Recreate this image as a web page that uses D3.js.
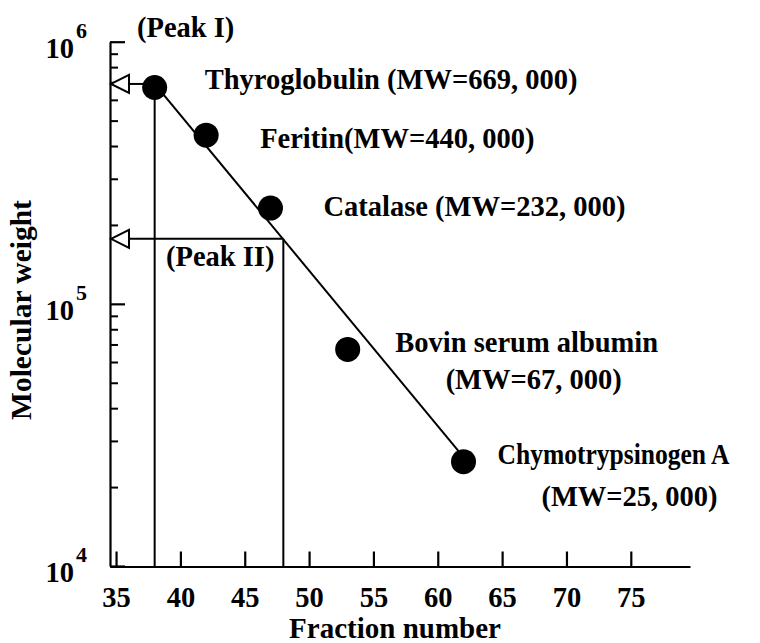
<!DOCTYPE html>
<html>
<head>
<meta charset="utf-8">
<script src="https://cdn.jsdelivr.net/npm/d3@7"></script>
<style>
  body { margin: 0; background: #fff; }
  text { font-family: "Liberation Serif", "Times New Roman", serif; font-weight: bold; fill: #000; }
</style>
</head>
<body>
<div id="chart"></div>
<script>

// standards (fraction number vs molecular weight)
var proteins = ["Thyroglobulin", "Feritin", "Catalase", "Bovin serum albumin", "Chymotrypsinogen A"];
var fractions = [38, 42, 47, 53, 62];
var weights = [669000, 440000, 232000, 67000, 25000];
var labelLines = [
    ["Thyroglobulin (MW=669, 000)"],
    ["Feritin(MW=440, 000)"],
    ["Catalase (MW=232, 000)"],
    ["Bovin serum albumin", "(MW=67, 000)"],
    ["Chymotrypsinogen A", "(MW=25, 000)"]
];

// calibration line end points
var fitFractions = [38, 62];
var fitWeights = [690000, 26000];

// peaks
var peakNames = ["(Peak I)", "(Peak II)"];
var peakFractions = [38, 48];
var peakWeights = [690000, 177000];

var xTicks = [35, 40, 45, 50, 55, 60, 65, 70, 75];
var yMajor = [1e4, 1e5, 1e6];
var yExponents = ["4", "5", "6"];

var width = 760, height = 643;

var svg = d3.select("#chart")
    .append("svg")
    .attr("width", width)
    .attr("height", height);

var x = d3.scaleLinear()
    .domain([34.53, 79.6])
    .range([110, 690]);

var y = d3.scaleLog()
    .domain([1e4, 1e6])
    .range([566, 41.7]);

var fs = 28.5;

// minor ticks 2..9 in each decade
var yMinor = [];
[1e4, 1e5].forEach(function(d) {
    for (var k = 2; k <= 9; k++) yMinor.push(d * k);
});

// y axis
var yAxis = svg.append("g")
    .attr("transform", "translate(" + x.range()[0] + ",0)")
    .call(d3.axisRight(y).tickValues(yMajor).tickSize(15).tickSizeOuter(0).tickFormat(""));
yAxis.select(".domain").attr("stroke-width", 2.2);
yAxis.selectAll(".tick line").attr("stroke-width", 2.2);

var yMinorAxis = svg.append("g")
    .attr("transform", "translate(" + x.range()[0] + ",0)")
    .call(d3.axisRight(y).tickValues(yMinor).tickSize(8).tickFormat(""));
yMinorAxis.select(".domain").remove();
yMinorAxis.selectAll(".tick line").attr("stroke-width", 2);

// x axis
var xAxis = svg.append("g")
    .attr("transform", "translate(0," + (y.range()[0] + 0.5) + ")")
    .call(d3.axisBottom(x).tickValues(xTicks).tickSize(-15).tickSizeOuter(0).tickPadding(0));
xAxis.attr("font-family", null).attr("font-size", null);
xAxis.select(".domain").attr("stroke-width", 2.2);
xAxis.selectAll(".tick line").attr("stroke-width", 2.2);
xAxis.selectAll(".tick text")
    .attr("dy", null)
    .attr("y", 40)
    .style("font-size", fs + "px");

// 10^n labels
svg.selectAll(".ylab")
    .data(yMajor)
    .enter()
    .append("text")
    .attr("class", "ylab")
    .attr("x", 74)
    .attr("y", function(d) { return y(d) + 16; })
    .attr("text-anchor", "end")
    .style("font-size", fs + "px")
    .text("10");
svg.selectAll(".yexp")
    .data(yMajor)
    .enter()
    .append("text")
    .attr("class", "yexp")
    .attr("x", 76)
    .attr("y", function(d) { return y(d) - 4; })
    .style("font-size", "22px")
    .text(function(d, i) { return yExponents[i]; });

// axis titles
svg.append("text")
    .attr("x", 395)
    .attr("y", 638)
    .attr("text-anchor", "middle")
    .style("font-size", "29px")
    .text("Fraction number");

svg.append("text")
    .attr("transform", "translate(31,310) rotate(-90)")
    .attr("text-anchor", "middle")
    .style("font-size", "29.5px")
    .text("Molecular weight");

// peak guide lines
var x0 = x.range()[0], yBase = y.range()[0];
peakFractions.forEach(function(f, i) {
    var px = x(f), py = y(peakWeights[i]);
    svg.append("line")
        .attr("x1", px).attr("x2", px)
        .attr("y1", yBase).attr("y2", py)
        .attr("stroke", "#000").attr("stroke-width", 2);
    svg.append("line")
        .attr("x1", px).attr("x2", x0 + 19)
        .attr("y1", py).attr("y2", py)
        .attr("stroke", "#000").attr("stroke-width", 2);
    svg.append("path")
        .attr("d", "M" + (x0 + 1) + "," + py + "L" + (x0 + 19) + "," + (py - 9) + "L" + (x0 + 19) + "," + (py + 9) + "Z")
        .attr("fill", "#fff")
        .attr("stroke", "#000")
        .attr("stroke-width", 2);
});

// peak labels
svg.append("text")
    .attr("x", 137)
    .attr("y", 37)
    .style("font-size", fs + "px")
    .text(peakNames[0]);
svg.append("text")
    .attr("x", 166)
    .attr("y", 266)
    .style("font-size", fs + "px")
    .text(peakNames[1]);

// calibration line
var line = d3.line()
    .x(function(d) { return x(d[0]); })
    .y(function(d) { return y(d[1]); });
svg.append("path")
    .datum(fitFractions.map(function(f, i) { return [f, fitWeights[i]]; }))
    .attr("d", line)
    .attr("fill", "none")
    .attr("stroke", "#000")
    .attr("stroke-width", 2);

// standards
var nodes = proteins.map(function(p, i) {
    return { name: p, fraction: fractions[i], mw: weights[i], lines: labelLines[i] };
});

svg.selectAll(".dot")
    .data(nodes)
    .enter()
    .append("circle")
    .attr("class", "dot")
    .attr("cx", function(d) { return x(d.fraction); })
    .attr("cy", function(d) { return y(d.mw); })
    .attr("r", 12.5)
    .attr("fill", "#000");

// label placement relative to each point, one entry per line: [dx, dy, anchor, squeeze width]
var labelPlace = [
    [[50, 2, "start"]],
    [[54, 12.5, "start"]],
    [[53, 8, "start"]],
    [[179, 3, "middle"], [186, 40, "middle"]],
    [[34, 2, "start", 232], [166, 44, "middle"]]
];

nodes.forEach(function(d, i) {
    d.lines.forEach(function(t, j) {
        var p = labelPlace[i][j];
        var txt = svg.append("text")
            .attr("x", x(d.fraction) + p[0])
            .attr("y", y(d.mw) + p[1])
            .attr("text-anchor", p[2])
            .style("font-size", fs + "px")
            .text(t);
        if (p[3]) {
            txt.attr("textLength", p[3]).attr("lengthAdjust", "spacingAndGlyphs");
        }
    });
});

</script>
</body>
</html>
